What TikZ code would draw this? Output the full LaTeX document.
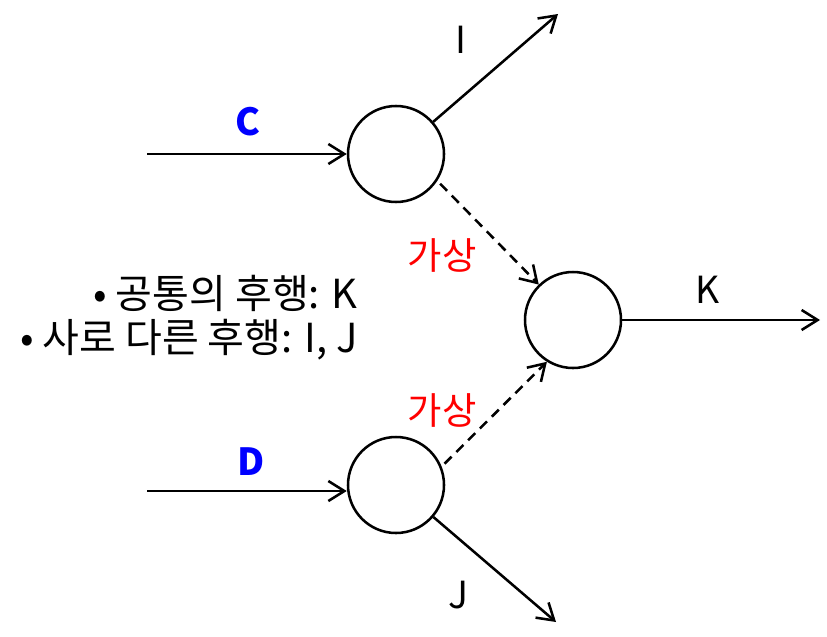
\documentclass[tikz,border=0pt]{standalone}
\usepackage{fontspec}
\setmainfont{Noto Sans CJK KR}
\usepackage{xcolor}
\usetikzlibrary{arrows.meta,positioning}

\begin{document}
\begin{tikzpicture}[
    x=0.75pt, y=-0.75pt,
    event/.style={
      draw,
      circle,
      line width=1.9pt,
      minimum size=72pt,
      inner sep=0pt
    },
    act/.style={
      line width=1.9pt,
      -{Straight Barb[length=12pt,width=15pt,line width=1.9pt]}
    },
    dummy/.style={
      act,
      dashed,
      dash pattern=on 7.5pt off 5pt
    },
    lab/.style={
      font=\fontsize{28}{33}\selectfont,
      inner sep=0pt
    },
    actlab/.style={
      lab,
      text=blue,
      font=\fontsize{28}{33}\selectfont\bfseries
    },
    dumlab/.style={
      lab,
      text=red
    }
]
  \useasboundingbox (0,0) rectangle (827,636);

  % Events
  \node[event] (ec) at (396,154) {};
  \node[event] (ek) at (573,320) {};
  \node[event] (ed) at (396,485) {};

  % Free ends of the activities
  \coordinate (cstart) at (147,154);
  \coordinate (dstart) at (147,491);
  \coordinate (iend)   at (558,14);
  \coordinate (jend)   at (556,622);
  \coordinate (kend)   at (820,320);

  % Activities
  \draw[act] (cstart) -- (ec);
  \draw[act] (dstart) -- (dstart -| ed.west);
  \draw[act] (ec) -- (iend);
  \draw[act] (ed) -- (jend);
  \draw[act] (ek) -- (kend);

  % Dummy activities
  \draw[dummy, shorten <=3pt] (ec.-33) -- (ek.134);
  \draw[dummy, shorten <=3pt] (ed.22) -- (ek.-122);

  % Labels
  \node[actlab] (lc) at (248,122) {C};
  \node[actlab] (ld) at (251,462) {D};
  \node[lab] (li) at (461,40)  {I};
  \node[lab] (lj) at (458,595) {J};
  \node[lab] (lk) at (708,290) {K};
  \node[dumlab] (lv1) at (442,255) {가상};
  \node[dumlab] (lv2) at (442,410) {가상};

  % Notes
  \node[lab, align=right, anchor=east,
        font=\fontsize{30}{33}\selectfont] (note) at (358,318) {
    • 공통의 후행: K\\
    • 사로 다른 후행: I, J
  };
\end{tikzpicture}
\end{document}
